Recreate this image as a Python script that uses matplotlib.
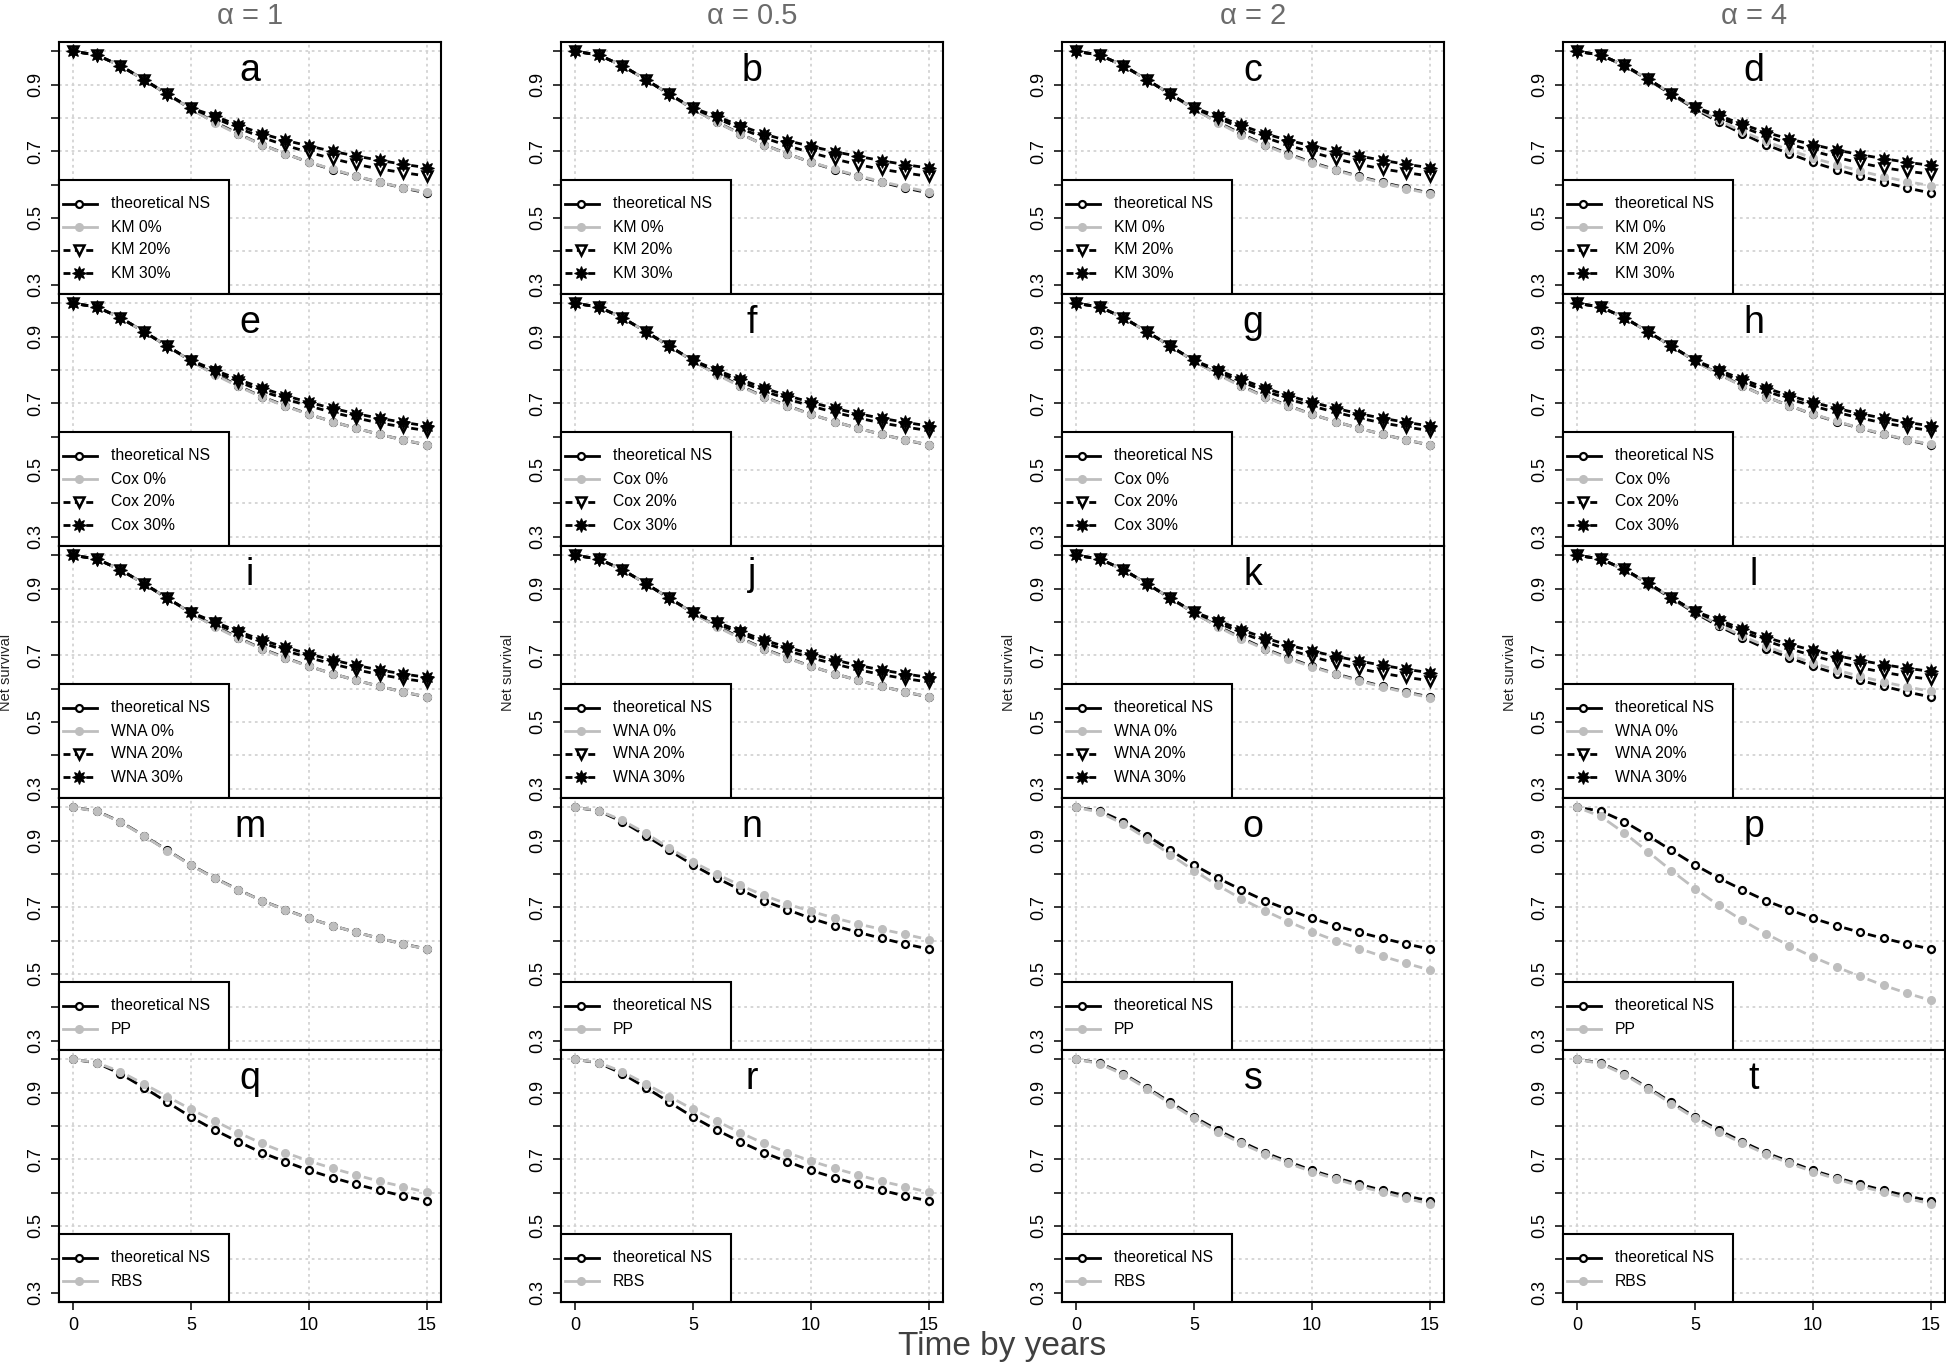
import numpy as np
import matplotlib
matplotlib.use("Agg")
import matplotlib.pyplot as plt
from matplotlib.collections import LineCollection
from matplotlib.lines import Line2D
from matplotlib.patches import Rectangle

plt.rcParams['font.family'] = ['Liberation Sans', 'DejaVu Sans']

# ---------------- data ----------------
years = list(range(16))
alpha_labels = ['α = 1', 'α = 0.5', 'α = 2', 'α = 4']
panel_letters = list('abcdefghijklmnopqrst')
row_methods = ['KM', 'Cox', 'WNA', 'PP', 'RBS']

theoretical_ns = [1.000, 0.989, 0.957, 0.915, 0.871, 0.827, 0.788, 0.753,
                  0.720, 0.693, 0.667, 0.645, 0.625, 0.607, 0.590, 0.575]

# KM (row 1)
km0_a = [1.000, 0.989, 0.957, 0.915, 0.871, 0.827, 0.786, 0.751, 0.720, 0.692, 0.668, 0.646, 0.626, 0.607, 0.591, 0.577]
km20_a = [1.000, 0.989, 0.957, 0.915, 0.871, 0.829, 0.800, 0.770, 0.742, 0.718, 0.697, 0.678, 0.661, 0.647, 0.636, 0.626]
km30_a = [1.000, 0.989, 0.957, 0.915, 0.871, 0.830, 0.806, 0.778, 0.753, 0.733, 0.716, 0.700, 0.686, 0.673, 0.661, 0.651]
km0_b = [1.000, 0.989, 0.957, 0.915, 0.871, 0.827, 0.787, 0.752, 0.720, 0.692, 0.668, 0.646, 0.627, 0.609, 0.593, 0.578]
km20_b = [1.000, 0.989, 0.957, 0.915, 0.871, 0.829, 0.799, 0.769, 0.741, 0.717, 0.696, 0.677, 0.660, 0.646, 0.635, 0.625]
km30_b = [1.000, 0.989, 0.957, 0.915, 0.871, 0.830, 0.805, 0.777, 0.752, 0.732, 0.715, 0.699, 0.685, 0.672, 0.660, 0.650]
km0_c = [1.000, 0.989, 0.957, 0.915, 0.871, 0.827, 0.786, 0.750, 0.718, 0.690, 0.665, 0.643, 0.623, 0.605, 0.588, 0.573]
km20_c = [1.000, 0.989, 0.957, 0.915, 0.871, 0.829, 0.800, 0.770, 0.742, 0.718, 0.697, 0.678, 0.661, 0.647, 0.636, 0.626]
km30_c = [1.000, 0.989, 0.957, 0.915, 0.871, 0.830, 0.806, 0.778, 0.753, 0.733, 0.716, 0.700, 0.686, 0.673, 0.661, 0.651]
km0_d = [1.000, 0.989, 0.958, 0.917, 0.873, 0.830, 0.793, 0.760, 0.730, 0.704, 0.680, 0.660, 0.641, 0.624, 0.609, 0.597]
km20_d = [1.000, 0.989, 0.958, 0.917, 0.873, 0.831, 0.802, 0.773, 0.746, 0.722, 0.701, 0.682, 0.665, 0.651, 0.640, 0.632]
km30_d = [1.000, 0.989, 0.958, 0.917, 0.873, 0.832, 0.808, 0.781, 0.757, 0.737, 0.720, 0.704, 0.690, 0.678, 0.667, 0.658]

# Cox (row 2)
cox0_e = [1.000, 0.989, 0.957, 0.915, 0.871, 0.827, 0.786, 0.751, 0.719, 0.691, 0.667, 0.645, 0.625, 0.607, 0.590, 0.576]
cox20_e = [1.000, 0.989, 0.957, 0.915, 0.871, 0.828, 0.795, 0.765, 0.737, 0.713, 0.692, 0.673, 0.656, 0.641, 0.629, 0.618]
cox30_e = [1.000, 0.989, 0.957, 0.915, 0.871, 0.829, 0.800, 0.772, 0.746, 0.723, 0.703, 0.685, 0.669, 0.655, 0.643, 0.632]
cox0_f = [1.000, 0.989, 0.957, 0.915, 0.871, 0.827, 0.786, 0.751, 0.719, 0.691, 0.667, 0.645, 0.625, 0.607, 0.590, 0.576]
cox20_f = [1.000, 0.989, 0.957, 0.915, 0.871, 0.828, 0.795, 0.765, 0.737, 0.713, 0.692, 0.673, 0.656, 0.641, 0.629, 0.618]
cox30_f = [1.000, 0.989, 0.957, 0.915, 0.871, 0.829, 0.800, 0.772, 0.746, 0.723, 0.703, 0.685, 0.669, 0.655, 0.643, 0.632]
cox0_g = [1.000, 0.989, 0.957, 0.915, 0.871, 0.827, 0.786, 0.751, 0.719, 0.691, 0.667, 0.645, 0.625, 0.607, 0.590, 0.576]
cox20_g = [1.000, 0.989, 0.957, 0.915, 0.871, 0.828, 0.795, 0.765, 0.737, 0.713, 0.692, 0.673, 0.656, 0.641, 0.629, 0.618]
cox30_g = [1.000, 0.989, 0.957, 0.915, 0.871, 0.829, 0.800, 0.772, 0.746, 0.723, 0.703, 0.685, 0.669, 0.655, 0.643, 0.632]
cox0_h = [1.000, 0.989, 0.957, 0.915, 0.871, 0.827, 0.787, 0.752, 0.720, 0.693, 0.668, 0.646, 0.626, 0.608, 0.591, 0.577]
cox20_h = [1.000, 0.989, 0.957, 0.915, 0.871, 0.828, 0.795, 0.765, 0.737, 0.713, 0.692, 0.673, 0.656, 0.641, 0.629, 0.618]
cox30_h = [1.000, 0.989, 0.957, 0.915, 0.871, 0.829, 0.800, 0.772, 0.746, 0.723, 0.703, 0.685, 0.669, 0.655, 0.643, 0.632]

# WNA (row 3)
wna0_i = [1.000, 0.989, 0.957, 0.915, 0.871, 0.827, 0.786, 0.751, 0.719, 0.691, 0.667, 0.645, 0.625, 0.607, 0.590, 0.576]
wna20_i = [1.000, 0.989, 0.957, 0.915, 0.871, 0.828, 0.796, 0.766, 0.738, 0.714, 0.693, 0.674, 0.657, 0.642, 0.630, 0.620]
wna30_i = [1.000, 0.989, 0.957, 0.915, 0.871, 0.829, 0.800, 0.772, 0.746, 0.724, 0.704, 0.686, 0.670, 0.656, 0.644, 0.634]
wna0_j = [1.000, 0.989, 0.957, 0.915, 0.871, 0.827, 0.786, 0.751, 0.719, 0.691, 0.667, 0.645, 0.625, 0.607, 0.590, 0.576]
wna20_j = [1.000, 0.989, 0.957, 0.915, 0.871, 0.828, 0.796, 0.766, 0.738, 0.714, 0.693, 0.674, 0.657, 0.642, 0.630, 0.620]
wna30_j = [1.000, 0.989, 0.957, 0.915, 0.871, 0.829, 0.800, 0.772, 0.746, 0.724, 0.704, 0.686, 0.670, 0.656, 0.644, 0.634]
wna0_k = [1.000, 0.989, 0.957, 0.915, 0.871, 0.827, 0.786, 0.750, 0.718, 0.690, 0.665, 0.643, 0.623, 0.605, 0.588, 0.573]
wna20_k = [1.000, 0.989, 0.957, 0.915, 0.871, 0.829, 0.798, 0.768, 0.741, 0.717, 0.696, 0.677, 0.660, 0.646, 0.634, 0.624]
wna30_k = [1.000, 0.989, 0.957, 0.915, 0.871, 0.830, 0.804, 0.777, 0.752, 0.731, 0.713, 0.697, 0.683, 0.670, 0.658, 0.648]
wna0_l = [1.000, 0.989, 0.958, 0.917, 0.873, 0.830, 0.792, 0.758, 0.728, 0.701, 0.677, 0.656, 0.637, 0.620, 0.605, 0.592]
wna20_l = [1.000, 0.989, 0.958, 0.917, 0.873, 0.831, 0.800, 0.771, 0.744, 0.720, 0.699, 0.680, 0.663, 0.649, 0.637, 0.628]
wna30_l = [1.000, 0.989, 0.958, 0.917, 0.873, 0.832, 0.806, 0.779, 0.754, 0.733, 0.715, 0.699, 0.685, 0.672, 0.661, 0.652]

# PP (row 4)
pp_m = [1.000, 0.988, 0.956, 0.914, 0.870, 0.826, 0.787, 0.752, 0.720, 0.692, 0.667, 0.645, 0.625, 0.607, 0.590, 0.574]
pp_n = [1.000, 0.990, 0.961, 0.922, 0.878, 0.836, 0.800, 0.766, 0.736, 0.710, 0.688, 0.668, 0.650, 0.634, 0.619, 0.603]
pp_o = [1.000, 0.985, 0.950, 0.906, 0.858, 0.810, 0.766, 0.726, 0.690, 0.657, 0.627, 0.600, 0.576, 0.553, 0.532, 0.512]
pp_p = [1.000, 0.973, 0.923, 0.867, 0.810, 0.756, 0.706, 0.661, 0.621, 0.585, 0.551, 0.521, 0.493, 0.466, 0.442, 0.421]

# RBS (row 5)
rbs_q = [1.000, 0.990, 0.963, 0.926, 0.888, 0.850, 0.815, 0.780, 0.748, 0.720, 0.695, 0.673, 0.653, 0.634, 0.618, 0.601]
rbs_r = [1.000, 0.990, 0.963, 0.926, 0.888, 0.850, 0.815, 0.780, 0.748, 0.720, 0.695, 0.673, 0.653, 0.634, 0.618, 0.601]
rbs_s = [1.000, 0.987, 0.954, 0.912, 0.867, 0.823, 0.783, 0.748, 0.716, 0.688, 0.663, 0.641, 0.620, 0.601, 0.583, 0.566]
rbs_t = [1.000, 0.987, 0.954, 0.912, 0.867, 0.823, 0.783, 0.748, 0.716, 0.688, 0.663, 0.641, 0.620, 0.601, 0.583, 0.566]

row_series = [
    [(km0_a, km20_a, km30_a), (km0_b, km20_b, km30_b), (km0_c, km20_c, km30_c), (km0_d, km20_d, km30_d)],
    [(cox0_e, cox20_e, cox30_e), (cox0_f, cox20_f, cox30_f), (cox0_g, cox20_g, cox30_g), (cox0_h, cox20_h, cox30_h)],
    [(wna0_i, wna20_i, wna30_i), (wna0_j, wna20_j, wna30_j), (wna0_k, wna20_k, wna30_k), (wna0_l, wna20_l, wna30_l)],
    [(pp_m,), (pp_n,), (pp_o,), (pp_p,)],
    [(rbs_q,), (rbs_r,), (rbs_s,), (rbs_t,)],
]

# ---------------- styles ----------------
BLACK = '#000000'
GRAY = '#BEBEBE'
GRID = '#D3D3D3'
LW = 2.0
GAP_PX = 8.0

styles = {
    'theo': dict(color=BLACK, ls='-', marker='o', ms=5.0, mfc='white', mec=BLACK, mew=1.6),
    'p0': dict(color=GRAY, ls='-', marker='o', ms=5.5, mfc=GRAY, mec=GRAY, mew=1.0),
    'p20': dict(color=BLACK, ls=(0, (2.5, 1.6)), marker='v', ms=7.0, mfc='white', mec=BLACK, mew=1.8),
    'p30': dict(color=BLACK, ls=(0, (2.5, 1.6)), marker=(8, 1, 0), ms=10.0, mfc=BLACK, mec=BLACK, mew=0.8),
}

W, H = 1946, 1363
fig = plt.figure(figsize=(W / 100, H / 100), dpi=100)
col_left = [59, 561, 1062, 1563]
PW, PH, TOP = 382, 252, 42


def draw_b(ax, x, y, st, z):
    """R type='b': points plus line segments that stop short of the points."""
    pts = ax.transData.transform(np.column_stack([x, y]))
    inv = ax.transData.inverted()
    segs = []
    for p0, p1 in zip(pts[:-1], pts[1:]):
        d = p1 - p0
        L = np.hypot(*d)
        if L <= 2 * GAP_PX + 1:
            continue
        u = d / L
        segs.append(inv.transform(np.array([p0 + u * GAP_PX, p1 - u * GAP_PX])))
    lc = LineCollection(segs, colors=st['color'], linewidths=LW, linestyles=st['ls'],
                        zorder=z, capstyle='butt')
    ax.add_collection(lc)
    ax.plot(x, y, ls='none', marker=st['marker'], ms=st['ms'], mfc=st['mfc'],
            mec=st['mec'], mew=st['mew'], zorder=z + 0.5)


def draw_legend(ax, entries):
    n = len(entries)
    hpx = 45 + 23 * (n - 1)
    wpx = 170
    ax.add_patch(Rectangle((0, 0), wpx / PW, hpx / PH, transform=ax.transAxes,
                           facecolor='white', edgecolor='black', lw=1.5, zorder=20,
                           clip_on=False))
    for k, (label, key) in enumerate(entries):
        st = styles[key]
        ypx = hpx - 24 - 23 * k
        yy = ypx / PH
        xs = np.array([4, 20, 38]) / PW
        ax.add_line(Line2D(xs, [yy] * 3, transform=ax.transAxes, color=st['color'],
                           lw=LW, ls=st['ls'], marker=st['marker'], markevery=[1],
                           ms=st['ms'], mfc=st['mfc'], mec=st['mec'], mew=st['mew'],
                           zorder=21, clip_on=False))
        ax.text(52 / PW, yy, label, transform=ax.transAxes, fontsize=11.3,
                va='center', ha='left', zorder=22)


for r in range(5):
    for c in range(4):
        ax = fig.add_axes([col_left[c] / W, 1 - (TOP + (r + 1) * PH) / H, PW / W, PH / H])
        ax.set_xlim(-0.6, 15.6)
        ax.set_ylim(0.272, 1.028)
        for gx in [0, 5, 10, 15]:
            ax.axvline(gx, color=GRID, ls=(0, (1.5, 2.0)), lw=1.3, zorder=0)
        for gy in np.arange(0.3, 1.001, 0.1):
            ax.axhline(gy, color=GRID, ls=(0, (1.5, 2.0)), lw=1.3, zorder=0)

        ax.set_yticks(np.round(np.arange(0.3, 1.001, 0.1), 1))
        ax.set_yticklabels(['0.3', '', '0.5', '', '0.7', '', '0.9', ''])
        ax.tick_params(axis='y', length=5.8, width=1.1, pad=5, labelsize=13,
                       labelrotation=90, direction='out')
        for lab in ax.get_yticklabels():
            lab.set_va('center')
        ax.set_xticks([0, 5, 10, 15])
        if r == 4:
            ax.set_xticklabels(['0', '5', '10', '15'])
            ax.tick_params(axis='x', length=5.5, width=1.1, pad=5, labelsize=13)
        else:
            ax.tick_params(axis='x', length=0, labelbottom=False)
        for sp in ax.spines.values():
            sp.set_linewidth(1.5)
            sp.set_color('black')

        series = row_series[r][c]
        draw_b(ax, years, theoretical_ns, styles['theo'], 3)
        keys = ['p0', 'p20', 'p30']
        for k, s in enumerate(series):
            draw_b(ax, years, s, styles[keys[k]], 4 + k)

        m = row_methods[r]
        if r < 3:
            entries = [('theoretical NS', 'theo'), (m + ' 0%', 'p0'),
                       (m + ' 20%', 'p20'), (m + ' 30%', 'p30')]
        else:
            entries = [('theoretical NS', 'theo'), (m, 'p0')]
        draw_legend(ax, entries)

        ax.text(7.5, 0.912, panel_letters[r * 4 + c], ha='center', va='baseline',
                fontsize=27, zorder=25)

        if r == 0:
            fig.text((col_left[c] + PW / 2) / W, 1 - 24 / H, alpha_labels[c],
                     ha='center', va='baseline', fontsize=21, color='#6b6b6b')
        if r == 2:
            fig.text((col_left[c] - 53) / W, 1 - (TOP + 2.5 * PH) / H, 'Net survival',
                     rotation=90, ha='center', va='center', fontsize=10.5, color='#222222')

fig.text(1002 / W, 1 - 1355 / H, 'Time by years', ha='center', va='baseline',
         fontsize=24, color='#404040')

fig.savefig('out.png', dpi=100)
